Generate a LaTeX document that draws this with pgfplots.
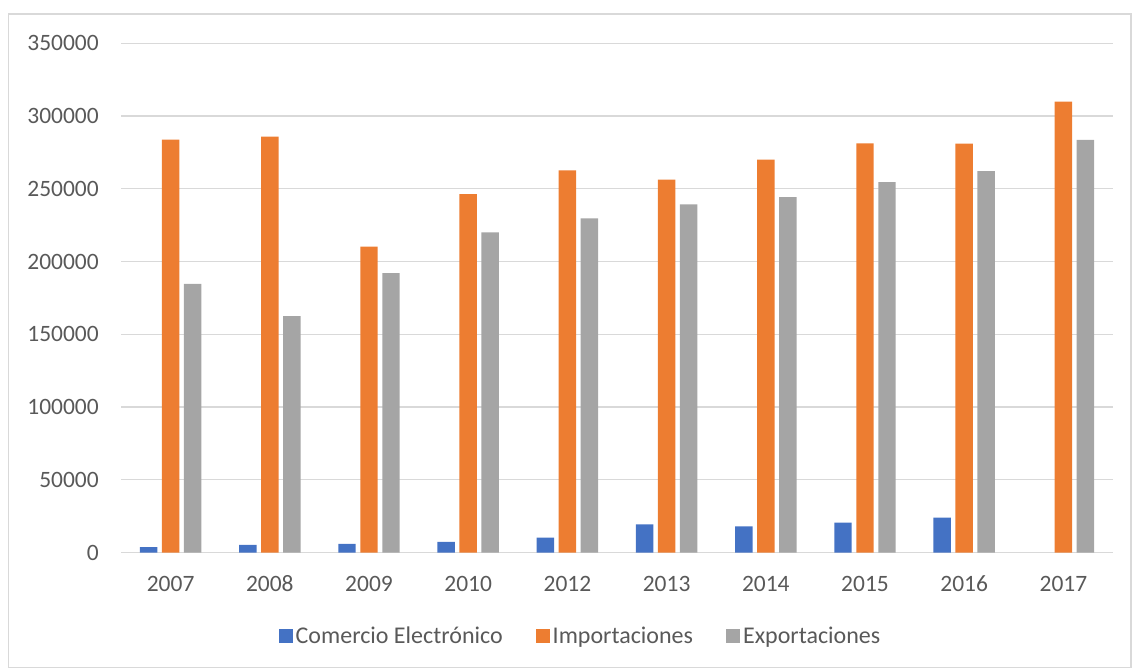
\documentclass[border=0pt]{standalone}
\usepackage{fontspec}
\setmainfont{Carlito}
\usepackage{pgfplots}
\pgfplotsset{compat=1.18}
\definecolor{cBlue}{HTML}{4472C4}
\definecolor{cOrange}{HTML}{ED7D31}
\definecolor{cGray}{HTML}{A5A5A5}
\definecolor{cGrid}{HTML}{D9D9D9}
\definecolor{cText}{HTML}{595959}
\newcommand\chartfont{\fontsize{17.6}{21}\selectfont}
\newcommand\legfont{\fontsize{18}{21}\selectfont}
\pgfplotsset{sqlegend/.style={legend image code/.code={\fill[##1] (0pt,-5.25pt) rectangle (10.5pt,5.25pt);}}}
\begin{document}
\begin{tikzpicture}[x=0.75pt,y=0.75pt]
\useasboundingbox (0,0) rectangle (1132,668);
\draw[cGrid, line width=1pt] (8.5,0.5) rectangle (1131,654);
\begin{axis}[
  at={(90.75pt,86.6pt)}, anchor=south west,
  scale only axis, width=744pt, height=381.9pt,
  ymin=0, ymax=350000, xmin=-0.5, xmax=9.5,
  ytick={0,50000,...,350000},
  xtick={0,...,9},
  xticklabels={2007,2008,2009,2010,2012,2013,2014,2015,2016,2017},
  scaled y ticks=false,
  /pgf/number format/.cd, fixed, precision=0, 1000 sep={}, assume math mode=true, /pgfplots/.cd,
  major tick length=0pt,
  axis line style={draw=none},
  ymajorgrids, grid style={cGrid, line width=1pt},
  tick label style={font=\chartfont, text=cText},
  yticklabel style={anchor=east, inner sep=0pt, xshift=-16.5pt},
  xticklabel style={anchor=base, inner sep=0pt, yshift=-29pt},
  ybar=3.4pt, bar width=13.1pt,
  legend columns=3,
  legend style={draw=none, fill=none, font=\legfont, text=cText,
    at={(0.4637,-0.164)}, anchor=center,
    /tikz/every even column/.append style={column sep=23pt}},
]
\addplot[fill=cBlue, draw=none, sqlegend] coordinates {
 (0,3700) (1,5300) (2,6000) (3,7300) (4,10300) (5,19300) (6,18000) (7,20600) (8,24000)};
\addlegendentry{Comercio Electrónico}
\addplot[fill=cOrange, draw=none, sqlegend] coordinates {
 (0,283800) (1,285800) (2,210300) (3,246300) (4,262600) (5,256400) (6,270100) (7,281300) (8,281100) (9,310000)};
\addlegendentry{Importaciones}
\addplot[fill=cGray, draw=none, sqlegend] coordinates {
 (0,184600) (1,162500) (2,192000) (3,220100) (4,229600) (5,239300) (6,244300) (7,254600) (8,262100) (9,283600)};
\addlegendentry{Exportaciones}
\end{axis}
\end{tikzpicture}
\end{document}
